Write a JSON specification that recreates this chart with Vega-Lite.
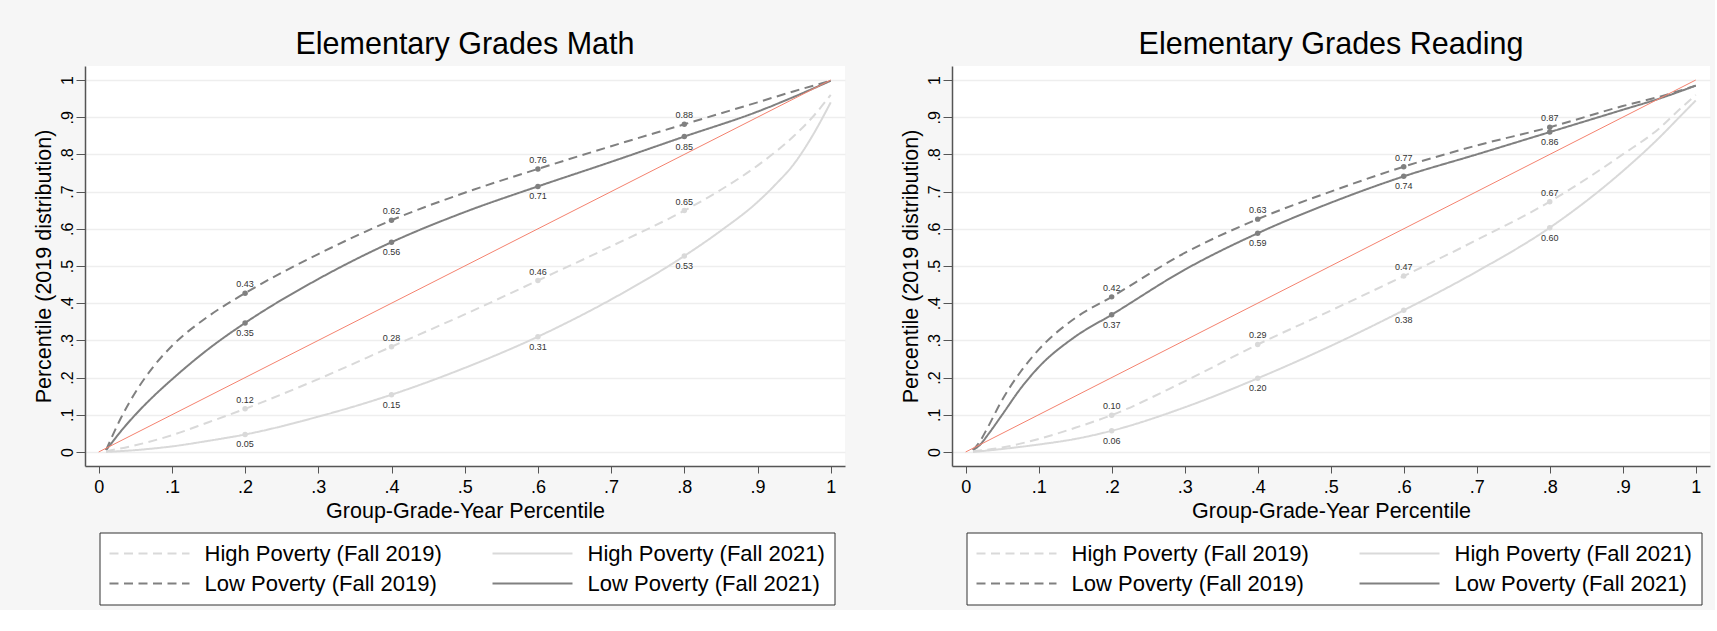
{
  "$schema": "https://vega.github.io/schema/vega-lite/v6.json",
  "padding": {"left": 33, "top": 29, "right": 5, "bottom": 5},
  "spacing": 55,
  "datasets": {
    "diag": [{"pct": 0, "val": 0}, {"pct": 1, "val": 1}],
    "curves": [
      {"subject": "Math", "series": "Low Poverty (Fall 2019)", "pct": 0.01, "val": 0.005},
      {"subject": "Math", "series": "Low Poverty (Fall 2019)", "pct": 0.03, "val": 0.09},
      {"subject": "Math", "series": "Low Poverty (Fall 2019)", "pct": 0.05, "val": 0.16},
      {"subject": "Math", "series": "Low Poverty (Fall 2019)", "pct": 0.075, "val": 0.23},
      {"subject": "Math", "series": "Low Poverty (Fall 2019)", "pct": 0.1, "val": 0.285},
      {"subject": "Math", "series": "Low Poverty (Fall 2019)", "pct": 0.15, "val": 0.365},
      {"subject": "Math", "series": "Low Poverty (Fall 2019)", "pct": 0.2, "val": 0.427},
      {"subject": "Math", "series": "Low Poverty (Fall 2019)", "pct": 0.3, "val": 0.532},
      {"subject": "Math", "series": "Low Poverty (Fall 2019)", "pct": 0.4, "val": 0.623},
      {"subject": "Math", "series": "Low Poverty (Fall 2019)", "pct": 0.5, "val": 0.697},
      {"subject": "Math", "series": "Low Poverty (Fall 2019)", "pct": 0.6, "val": 0.761},
      {"subject": "Math", "series": "Low Poverty (Fall 2019)", "pct": 0.7, "val": 0.822},
      {"subject": "Math", "series": "Low Poverty (Fall 2019)", "pct": 0.8, "val": 0.881},
      {"subject": "Math", "series": "Low Poverty (Fall 2019)", "pct": 0.9, "val": 0.94},
      {"subject": "Math", "series": "Low Poverty (Fall 2019)", "pct": 0.95, "val": 0.97},
      {"subject": "Math", "series": "Low Poverty (Fall 2019)", "pct": 1.0, "val": 0.998},

      {"subject": "Math", "series": "Low Poverty (Fall 2021)", "pct": 0.01, "val": 0.005},
      {"subject": "Math", "series": "Low Poverty (Fall 2021)", "pct": 0.02, "val": 0.03},
      {"subject": "Math", "series": "Low Poverty (Fall 2021)", "pct": 0.03, "val": 0.055},
      {"subject": "Math", "series": "Low Poverty (Fall 2021)", "pct": 0.05, "val": 0.1},
      {"subject": "Math", "series": "Low Poverty (Fall 2021)", "pct": 0.075, "val": 0.15},
      {"subject": "Math", "series": "Low Poverty (Fall 2021)", "pct": 0.1, "val": 0.195},
      {"subject": "Math", "series": "Low Poverty (Fall 2021)", "pct": 0.15, "val": 0.277},
      {"subject": "Math", "series": "Low Poverty (Fall 2021)", "pct": 0.2, "val": 0.347},
      {"subject": "Math", "series": "Low Poverty (Fall 2021)", "pct": 0.3, "val": 0.465},
      {"subject": "Math", "series": "Low Poverty (Fall 2021)", "pct": 0.4, "val": 0.564},
      {"subject": "Math", "series": "Low Poverty (Fall 2021)", "pct": 0.5, "val": 0.645},
      {"subject": "Math", "series": "Low Poverty (Fall 2021)", "pct": 0.6, "val": 0.714},
      {"subject": "Math", "series": "Low Poverty (Fall 2021)", "pct": 0.7, "val": 0.78},
      {"subject": "Math", "series": "Low Poverty (Fall 2021)", "pct": 0.8, "val": 0.848},
      {"subject": "Math", "series": "Low Poverty (Fall 2021)", "pct": 0.9, "val": 0.915},
      {"subject": "Math", "series": "Low Poverty (Fall 2021)", "pct": 0.95, "val": 0.955},
      {"subject": "Math", "series": "Low Poverty (Fall 2021)", "pct": 1.0, "val": 0.998},

      {"subject": "Math", "series": "High Poverty (Fall 2019)", "pct": 0.01, "val": 0.002},
      {"subject": "Math", "series": "High Poverty (Fall 2019)", "pct": 0.05, "val": 0.018},
      {"subject": "Math", "series": "High Poverty (Fall 2019)", "pct": 0.1, "val": 0.045},
      {"subject": "Math", "series": "High Poverty (Fall 2019)", "pct": 0.15, "val": 0.08},
      {"subject": "Math", "series": "High Poverty (Fall 2019)", "pct": 0.2, "val": 0.116},
      {"subject": "Math", "series": "High Poverty (Fall 2019)", "pct": 0.3, "val": 0.196},
      {"subject": "Math", "series": "High Poverty (Fall 2019)", "pct": 0.4, "val": 0.283},
      {"subject": "Math", "series": "High Poverty (Fall 2019)", "pct": 0.5, "val": 0.37},
      {"subject": "Math", "series": "High Poverty (Fall 2019)", "pct": 0.6, "val": 0.461},
      {"subject": "Math", "series": "High Poverty (Fall 2019)", "pct": 0.7, "val": 0.553},
      {"subject": "Math", "series": "High Poverty (Fall 2019)", "pct": 0.8, "val": 0.649},
      {"subject": "Math", "series": "High Poverty (Fall 2019)", "pct": 0.85, "val": 0.705},
      {"subject": "Math", "series": "High Poverty (Fall 2019)", "pct": 0.9, "val": 0.77},
      {"subject": "Math", "series": "High Poverty (Fall 2019)", "pct": 0.95, "val": 0.85},
      {"subject": "Math", "series": "High Poverty (Fall 2019)", "pct": 0.975, "val": 0.9},
      {"subject": "Math", "series": "High Poverty (Fall 2019)", "pct": 1.0, "val": 0.96},

      {"subject": "Math", "series": "High Poverty (Fall 2021)", "pct": 0.01, "val": 0.0},
      {"subject": "Math", "series": "High Poverty (Fall 2021)", "pct": 0.05, "val": 0.005},
      {"subject": "Math", "series": "High Poverty (Fall 2021)", "pct": 0.1, "val": 0.015},
      {"subject": "Math", "series": "High Poverty (Fall 2021)", "pct": 0.15, "val": 0.03},
      {"subject": "Math", "series": "High Poverty (Fall 2021)", "pct": 0.2, "val": 0.047},
      {"subject": "Math", "series": "High Poverty (Fall 2021)", "pct": 0.3, "val": 0.095},
      {"subject": "Math", "series": "High Poverty (Fall 2021)", "pct": 0.4, "val": 0.154},
      {"subject": "Math", "series": "High Poverty (Fall 2021)", "pct": 0.5, "val": 0.226},
      {"subject": "Math", "series": "High Poverty (Fall 2021)", "pct": 0.6, "val": 0.31},
      {"subject": "Math", "series": "High Poverty (Fall 2021)", "pct": 0.7, "val": 0.41},
      {"subject": "Math", "series": "High Poverty (Fall 2021)", "pct": 0.8, "val": 0.527},
      {"subject": "Math", "series": "High Poverty (Fall 2021)", "pct": 0.85, "val": 0.595},
      {"subject": "Math", "series": "High Poverty (Fall 2021)", "pct": 0.9, "val": 0.672},
      {"subject": "Math", "series": "High Poverty (Fall 2021)", "pct": 0.925, "val": 0.72},
      {"subject": "Math", "series": "High Poverty (Fall 2021)", "pct": 0.95, "val": 0.775},
      {"subject": "Math", "series": "High Poverty (Fall 2021)", "pct": 0.975, "val": 0.85},
      {"subject": "Math", "series": "High Poverty (Fall 2021)", "pct": 1.0, "val": 0.94},

      {"subject": "Reading", "series": "Low Poverty (Fall 2019)", "pct": 0.01, "val": 0.005},
      {"subject": "Reading", "series": "Low Poverty (Fall 2019)", "pct": 0.02, "val": 0.03},
      {"subject": "Reading", "series": "Low Poverty (Fall 2019)", "pct": 0.03, "val": 0.065},
      {"subject": "Reading", "series": "Low Poverty (Fall 2019)", "pct": 0.05, "val": 0.14},
      {"subject": "Reading", "series": "Low Poverty (Fall 2019)", "pct": 0.075, "val": 0.215},
      {"subject": "Reading", "series": "Low Poverty (Fall 2019)", "pct": 0.1, "val": 0.275},
      {"subject": "Reading", "series": "Low Poverty (Fall 2019)", "pct": 0.15, "val": 0.36},
      {"subject": "Reading", "series": "Low Poverty (Fall 2019)", "pct": 0.2, "val": 0.417},
      {"subject": "Reading", "series": "Low Poverty (Fall 2019)", "pct": 0.3, "val": 0.535},
      {"subject": "Reading", "series": "Low Poverty (Fall 2019)", "pct": 0.4, "val": 0.626},
      {"subject": "Reading", "series": "Low Poverty (Fall 2019)", "pct": 0.5, "val": 0.7},
      {"subject": "Reading", "series": "Low Poverty (Fall 2019)", "pct": 0.6, "val": 0.767},
      {"subject": "Reading", "series": "Low Poverty (Fall 2019)", "pct": 0.7, "val": 0.824},
      {"subject": "Reading", "series": "Low Poverty (Fall 2019)", "pct": 0.8, "val": 0.873},
      {"subject": "Reading", "series": "Low Poverty (Fall 2019)", "pct": 0.9, "val": 0.93},
      {"subject": "Reading", "series": "Low Poverty (Fall 2019)", "pct": 0.95, "val": 0.955},
      {"subject": "Reading", "series": "Low Poverty (Fall 2019)", "pct": 1.0, "val": 0.985},

      {"subject": "Reading", "series": "Low Poverty (Fall 2021)", "pct": 0.01, "val": 0.005},
      {"subject": "Reading", "series": "Low Poverty (Fall 2021)", "pct": 0.02, "val": 0.02},
      {"subject": "Reading", "series": "Low Poverty (Fall 2021)", "pct": 0.03, "val": 0.045},
      {"subject": "Reading", "series": "Low Poverty (Fall 2021)", "pct": 0.05, "val": 0.1},
      {"subject": "Reading", "series": "Low Poverty (Fall 2021)", "pct": 0.075, "val": 0.17},
      {"subject": "Reading", "series": "Low Poverty (Fall 2021)", "pct": 0.1, "val": 0.228},
      {"subject": "Reading", "series": "Low Poverty (Fall 2021)", "pct": 0.15, "val": 0.31},
      {"subject": "Reading", "series": "Low Poverty (Fall 2021)", "pct": 0.2, "val": 0.369},
      {"subject": "Reading", "series": "Low Poverty (Fall 2021)", "pct": 0.3, "val": 0.49},
      {"subject": "Reading", "series": "Low Poverty (Fall 2021)", "pct": 0.4, "val": 0.588},
      {"subject": "Reading", "series": "Low Poverty (Fall 2021)", "pct": 0.5, "val": 0.67},
      {"subject": "Reading", "series": "Low Poverty (Fall 2021)", "pct": 0.6, "val": 0.741},
      {"subject": "Reading", "series": "Low Poverty (Fall 2021)", "pct": 0.7, "val": 0.8},
      {"subject": "Reading", "series": "Low Poverty (Fall 2021)", "pct": 0.8, "val": 0.86},
      {"subject": "Reading", "series": "Low Poverty (Fall 2021)", "pct": 0.9, "val": 0.92},
      {"subject": "Reading", "series": "Low Poverty (Fall 2021)", "pct": 0.95, "val": 0.95},
      {"subject": "Reading", "series": "Low Poverty (Fall 2021)", "pct": 1.0, "val": 0.985},

      {"subject": "Reading", "series": "High Poverty (Fall 2019)", "pct": 0.01, "val": 0.002},
      {"subject": "Reading", "series": "High Poverty (Fall 2019)", "pct": 0.05, "val": 0.012},
      {"subject": "Reading", "series": "High Poverty (Fall 2019)", "pct": 0.1, "val": 0.035},
      {"subject": "Reading", "series": "High Poverty (Fall 2019)", "pct": 0.15, "val": 0.065},
      {"subject": "Reading", "series": "High Poverty (Fall 2019)", "pct": 0.2, "val": 0.099},
      {"subject": "Reading", "series": "High Poverty (Fall 2019)", "pct": 0.3, "val": 0.19},
      {"subject": "Reading", "series": "High Poverty (Fall 2019)", "pct": 0.4, "val": 0.289},
      {"subject": "Reading", "series": "High Poverty (Fall 2019)", "pct": 0.5, "val": 0.38},
      {"subject": "Reading", "series": "High Poverty (Fall 2019)", "pct": 0.6, "val": 0.473},
      {"subject": "Reading", "series": "High Poverty (Fall 2019)", "pct": 0.7, "val": 0.57},
      {"subject": "Reading", "series": "High Poverty (Fall 2019)", "pct": 0.8, "val": 0.673},
      {"subject": "Reading", "series": "High Poverty (Fall 2019)", "pct": 0.9, "val": 0.8},
      {"subject": "Reading", "series": "High Poverty (Fall 2019)", "pct": 0.95, "val": 0.87},
      {"subject": "Reading", "series": "High Poverty (Fall 2019)", "pct": 0.98, "val": 0.925},
      {"subject": "Reading", "series": "High Poverty (Fall 2019)", "pct": 1.0, "val": 0.96},

      {"subject": "Reading", "series": "High Poverty (Fall 2021)", "pct": 0.01, "val": 0.0},
      {"subject": "Reading", "series": "High Poverty (Fall 2021)", "pct": 0.05, "val": 0.008},
      {"subject": "Reading", "series": "High Poverty (Fall 2021)", "pct": 0.1, "val": 0.02},
      {"subject": "Reading", "series": "High Poverty (Fall 2021)", "pct": 0.15, "val": 0.035},
      {"subject": "Reading", "series": "High Poverty (Fall 2021)", "pct": 0.2, "val": 0.057},
      {"subject": "Reading", "series": "High Poverty (Fall 2021)", "pct": 0.3, "val": 0.12},
      {"subject": "Reading", "series": "High Poverty (Fall 2021)", "pct": 0.4, "val": 0.198},
      {"subject": "Reading", "series": "High Poverty (Fall 2021)", "pct": 0.5, "val": 0.285},
      {"subject": "Reading", "series": "High Poverty (Fall 2021)", "pct": 0.6, "val": 0.381},
      {"subject": "Reading", "series": "High Poverty (Fall 2021)", "pct": 0.7, "val": 0.485},
      {"subject": "Reading", "series": "High Poverty (Fall 2021)", "pct": 0.8, "val": 0.603},
      {"subject": "Reading", "series": "High Poverty (Fall 2021)", "pct": 0.9, "val": 0.755},
      {"subject": "Reading", "series": "High Poverty (Fall 2021)", "pct": 0.95, "val": 0.845},
      {"subject": "Reading", "series": "High Poverty (Fall 2021)", "pct": 0.98, "val": 0.905},
      {"subject": "Reading", "series": "High Poverty (Fall 2021)", "pct": 1.0, "val": 0.945}
    ]
  },
  "resolve": {
    "scale": {"color": "independent", "strokeDash": "independent"},
    "legend": {"color": "independent", "strokeDash": "independent"}
  },
  "hconcat": [
    {
      "title": {"text": "Elementary Grades Math"},
      "width": 760,
      "height": 400,
      "layer": [
        {
          "data": {"name": "curves"},
          "transform": [{"filter": {"field": "subject", "equal": "Math"}}],
          "mark": {"type": "line", "strokeWidth": 2, "interpolate": "monotone"},
          "encoding": {
            "x": {"field": "pct", "type": "quantitative", "scale": {"domain": [-0.0187, 1.0195], "nice": false, "zero": false},
              "axis": {"values": [0, 0.1, 0.2, 0.3, 0.4, 0.5, 0.6, 0.7, 0.8, 0.9, 1], "tickCount": 20, "title": "Group-Grade-Year Percentile", "labelOverlap": false}},
            "y": {"field": "val", "type": "quantitative", "scale": {"domain": [-0.0377, 1.0377], "nice": false, "zero": false},
              "axis": {"values": [0, 0.1, 0.2, 0.3, 0.4, 0.5, 0.6, 0.7, 0.8, 0.9, 1], "tickCount": 20, "title": "Percentile (2019 distribution)", "labelOverlap": false}},
            "color": {"field": "series", "type": "nominal",
              "scale": {"domain": ["High Poverty (Fall 2019)", "High Poverty (Fall 2021)", "Low Poverty (Fall 2019)", "Low Poverty (Fall 2021)"], "range": ["#d9d9d9", "#d9d9d9", "#808080", "#808080"]},
              "legend": {"orient": "none", "legendX": 14.5, "legendY": 466.5, "title": null}},
            "strokeDash": {"field": "series", "type": "nominal",
              "scale": {"domain": ["High Poverty (Fall 2019)", "High Poverty (Fall 2021)", "Low Poverty (Fall 2019)", "Low Poverty (Fall 2021)"], "range": [[9, 5.5], [1, 0], [9, 5.5], [1, 0]]},
              "legend": {"orient": "none", "legendX": 14.5, "legendY": 466.5, "title": null}}
          }
        },
        {
          "data": {"name": "diag"},
          "mark": {"type": "line", "color": "#f4826f", "strokeWidth": 1},
          "encoding": {
            "x": {"field": "pct", "type": "quantitative"},
            "y": {"field": "val", "type": "quantitative"}
          }
        },
        {
          "data": {"name": "curves"},
          "transform": [{"filter": {"field": "subject", "equal": "Math"}}, {"filter": {"field": "pct", "oneOf": [0.2, 0.4, 0.6, 0.8]}}],
          "mark": {"type": "point", "filled": true, "size": 30, "opacity": 1},
          "encoding": {
            "x": {"field": "pct", "type": "quantitative"},
            "y": {"field": "val", "type": "quantitative"},
            "color": {"field": "series", "type": "nominal", "legend": null}
          }
        },
        {
          "data": {"name": "curves"},
          "transform": [{"filter": {"field": "subject", "equal": "Math"}}, {"filter": {"field": "pct", "oneOf": [0.2, 0.4, 0.6, 0.8]}}, {"filter": {"field": "series", "oneOf": ["High Poverty (Fall 2019)", "Low Poverty (Fall 2019)"]}}],
          "mark": {"type": "text", "dy": -9, "fontSize": 9, "color": "#333333"},
          "encoding": {
            "x": {"field": "pct", "type": "quantitative"},
            "y": {"field": "val", "type": "quantitative"},
            "text": {"field": "val", "type": "quantitative", "format": ".2f"}
          }
        },
        {
          "data": {"name": "curves"},
          "transform": [{"filter": {"field": "subject", "equal": "Math"}}, {"filter": {"field": "pct", "oneOf": [0.2, 0.4, 0.6, 0.8]}}, {"filter": {"field": "series", "oneOf": ["High Poverty (Fall 2021)", "Low Poverty (Fall 2021)"]}}],
          "mark": {"type": "text", "dy": 10, "fontSize": 9, "color": "#333333"},
          "encoding": {
            "x": {"field": "pct", "type": "quantitative"},
            "y": {"field": "val", "type": "quantitative"},
            "text": {"field": "val", "type": "quantitative", "format": ".2f"}
          }
        }
      ]
    },
    {
      "title": {"text": "Elementary Grades Reading"},
      "width": 758,
      "height": 400,
      "layer": [
        {
          "data": {"name": "curves"},
          "transform": [{"filter": {"field": "subject", "equal": "Reading"}}],
          "mark": {"type": "line", "strokeWidth": 2, "interpolate": "monotone"},
          "encoding": {
            "x": {"field": "pct", "type": "quantitative", "scale": {"domain": [-0.0187, 1.0195], "nice": false, "zero": false},
              "axis": {"values": [0, 0.1, 0.2, 0.3, 0.4, 0.5, 0.6, 0.7, 0.8, 0.9, 1], "tickCount": 20, "title": "Group-Grade-Year Percentile", "labelOverlap": false}},
            "y": {"field": "val", "type": "quantitative", "scale": {"domain": [-0.0377, 1.0377], "nice": false, "zero": false},
              "axis": {"values": [0, 0.1, 0.2, 0.3, 0.4, 0.5, 0.6, 0.7, 0.8, 0.9, 1], "tickCount": 20, "title": "Percentile (2019 distribution)", "labelOverlap": false}},
            "color": {"field": "series", "type": "nominal",
              "scale": {"domain": ["High Poverty (Fall 2019)", "High Poverty (Fall 2021)", "Low Poverty (Fall 2019)", "Low Poverty (Fall 2021)"], "range": ["#d9d9d9", "#d9d9d9", "#808080", "#808080"]},
              "legend": {"orient": "none", "legendX": 14.5, "legendY": 466.5, "title": null}},
            "strokeDash": {"field": "series", "type": "nominal",
              "scale": {"domain": ["High Poverty (Fall 2019)", "High Poverty (Fall 2021)", "Low Poverty (Fall 2019)", "Low Poverty (Fall 2021)"], "range": [[9, 5.5], [1, 0], [9, 5.5], [1, 0]]},
              "legend": {"orient": "none", "legendX": 14.5, "legendY": 466.5, "title": null}}
          }
        },
        {
          "data": {"name": "diag"},
          "mark": {"type": "line", "color": "#f4826f", "strokeWidth": 1},
          "encoding": {
            "x": {"field": "pct", "type": "quantitative"},
            "y": {"field": "val", "type": "quantitative"}
          }
        },
        {
          "data": {"name": "curves"},
          "transform": [{"filter": {"field": "subject", "equal": "Reading"}}, {"filter": {"field": "pct", "oneOf": [0.2, 0.4, 0.6, 0.8]}}],
          "mark": {"type": "point", "filled": true, "size": 30, "opacity": 1},
          "encoding": {
            "x": {"field": "pct", "type": "quantitative"},
            "y": {"field": "val", "type": "quantitative"},
            "color": {"field": "series", "type": "nominal", "legend": null}
          }
        },
        {
          "data": {"name": "curves"},
          "transform": [{"filter": {"field": "subject", "equal": "Reading"}}, {"filter": {"field": "pct", "oneOf": [0.2, 0.4, 0.6, 0.8]}}, {"filter": {"field": "series", "oneOf": ["High Poverty (Fall 2019)", "Low Poverty (Fall 2019)"]}}],
          "mark": {"type": "text", "dy": -9, "fontSize": 9, "color": "#333333"},
          "encoding": {
            "x": {"field": "pct", "type": "quantitative"},
            "y": {"field": "val", "type": "quantitative"},
            "text": {"field": "val", "type": "quantitative", "format": ".2f"}
          }
        },
        {
          "data": {"name": "curves"},
          "transform": [{"filter": {"field": "subject", "equal": "Reading"}}, {"filter": {"field": "pct", "oneOf": [0.2, 0.4, 0.6, 0.8]}}, {"filter": {"field": "series", "oneOf": ["High Poverty (Fall 2021)", "Low Poverty (Fall 2021)"]}}],
          "mark": {"type": "text", "dy": 10, "fontSize": 9, "color": "#333333"},
          "encoding": {
            "x": {"field": "pct", "type": "quantitative"},
            "y": {"field": "val", "type": "quantitative"},
            "text": {"field": "val", "type": "quantitative", "format": ".2f"}
          }
        }
      ]
    }
  ],
  "config": {
    "background": "#f6f6f6",
    "font": "Liberation Sans",
    "view": {"fill": "white", "stroke": null},
    "title": {"fontSize": 30.5, "fontWeight": "normal", "color": "black", "baseline": "alphabetic", "offset": 6, "anchor": "middle"},
    "axis": {
      "domainColor": "#555555",
      "domainWidth": 1.5,
      "tickColor": "#555555",
      "tickWidth": 1,
      "labelColor": "black",
      "titleColor": "black",
      "titleFontWeight": "normal",
      "titleFontSize": 21.5,
      "labelExpr": "datum.value === 0 ? '0' : datum.value === 1 ? '1' : '.' + round(datum.value * 10)"
    },
    "axisX": {
      "grid": false,
      "tickSize": 7,
      "labelFontSize": 18,
      "labelPadding": 5,
      "titlePadding": 4
    },
    "axisY": {
      "grid": true,
      "gridColor": "#eeeeee",
      "gridWidth": 1.5,
      "tickSize": 9,
      "labelFontSize": 16,
      "labelAngle": -90,
      "labelAlign": "center",
      "labelBaseline": "bottom",
      "labelPadding": 1,
      "titlePadding": 4
    },
    "legend": {
      "direction": "horizontal",
      "columns": 2,
      "symbolType": "stroke",
      "symbolSize": 6400,
      "symbolStrokeWidth": 2,
      "clipHeight": 24,
      "rowPadding": 6,
      "columnPadding": 49,
      "labelOffset": 14,
      "labelFontSize": 22,
      "labelLimit": 400,
      "labelColor": "black",
      "padding": 9,
      "strokeColor": "#333333",
      "fillColor": "white"
    }
  }
}
